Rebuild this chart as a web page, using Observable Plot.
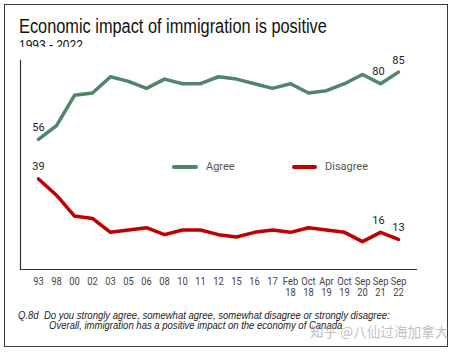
<!DOCTYPE html>
<html><head><meta charset="utf-8">
<script src="https://cdn.jsdelivr.net/npm/d3@7"></script>
<script src="https://cdn.jsdelivr.net/npm/@observablehq/plot@0.6"></script>
<style>
body{margin:0;background:#fff;}
#wrap{position:relative;width:459px;height:353px;overflow:hidden;background:#fff;font-family:"Liberation Sans",Arial,sans-serif;}
#frame{position:absolute;left:4px;top:4px;width:442px;height:341px;border:1.5px solid #3a3a3a;}
.abs{position:absolute;white-space:nowrap;transform-origin:0 0;}
#title{left:19px;top:16px;font-size:20px;line-height:20px;color:#111;}
#subclip{position:absolute;left:19px;top:38px;height:9px;overflow:hidden;width:80px;}
#sub{left:0;top:0;font-size:14px;line-height:14px;color:#111;}
.cap{font-size:10.5px;line-height:10.5px;font-style:italic;color:#222;}
#cap1{left:18px;top:309.5px;}
#cap2{left:49px;top:320px;}
#wm{left:310px;top:323px;font-family:"Noto Sans CJK SC",sans-serif;font-size:14px;line-height:16px;color:rgba(170,170,170,0.75);}
.leg{position:absolute;height:4px;border-radius:2px;}
.legt{font-family:Roboto,sans-serif;font-size:11px;line-height:11px;color:#555;}
#chart{position:absolute;left:0;top:0;}
</style></head><body>
<div id="wrap">
  <div id="chart"></div>
  <div id="frame"></div>
  <div id="title" class="abs fit" data-w="308">Economic impact of immigration is positive</div>
  <div id="subclip"><div id="sub" class="abs fit" data-w="64">1993 - 2022</div></div>
  <div id="legA" class="leg" style="left:172px;top:165px;width:26px;"></div>
  <div class="abs legt" style="left:206px;top:161px;">Agree</div>
  <div id="legD" class="leg" style="left:292px;top:165px;width:25px;"></div>
  <div class="abs legt" style="left:325px;top:161px;">Disagree</div>
  <div id="cap1" class="abs cap fit" data-w="372">Q.8d&nbsp; Do you strongly agree, somewhat agree, somewhat disagree or strongly disagree:</div>
  <div id="cap2" class="abs cap fit" data-w="293">Overall, immigration has a positive impact on the economy of Canada</div>
  <div id="wm" class="abs fit" data-w="138">知乎 @八仙过海加拿大</div>
</div>
<script>
const categories = ["93","98","00","02","03","05","06","08","10","11","12","15","16","17","Feb 18","Oct 18","Apr 19","Oct 19","Sep 20","Sep 21","Sep 22"];
const tickLabels = ["93","98","00","02","03","05","06","08","10","11","12","15","16","17","Feb\n18","Oct\n18","Apr\n19","Oct\n19","Sep\n20","Sep\n21","Sep\n22"];
const seriesNames = ["Agree","Disagree"];
const agree =    [56,62,75,76,83,81,78,82,80,80,83,82,80,78,80,76,77,80,84,80,85];
const disagree = [39,32,23,22,16,17,18,15,17,17,15,14,16,17,16,18,17,16,12,16,13];
const labeledAgree = ["93","Sep 21","Sep 22"];
const labeledDisagree = ["93","Sep 21","Sep 22"];
const colors = ["#4f8669","#c00000"];

document.getElementById("legA").style.background = colors[0];
document.getElementById("legD").style.background = colors[1];

const rows = categories.flatMap((c, i) => [
  {cat: c, v: agree[i], s: seriesNames[0]},
  {cat: c, v: disagree[i], s: seriesNames[1]}
]);
const labelRows = rows.filter(d =>
  (d.s === "Agree" && labeledAgree.includes(d.cat)) ||
  (d.s === "Disagree" && labeledDisagree.includes(d.cat)));

const chart = Plot.plot({
  width: 459, height: 353,
  marginTop: 60, marginBottom: 84, marginLeft: 20, marginRight: 43,
  style: {background: "transparent", fontFamily: "Roboto, sans-serif", fontSize: "11px", color: "#444", overflow: "visible"},
  x: {type: "point", domain: categories, padding: 0.48,
      tickFormat: d => tickLabels[categories.indexOf(d)], tickSize: 0, tickPadding: 8, label: null},
  y: {domain: [0, 90], axis: null},
  color: {domain: seriesNames, range: colors},
  marks: [
    Plot.frame({anchor: "left", stroke: "#333", strokeWidth: 1.2}),
    Plot.frame({anchor: "bottom", stroke: "#333", strokeWidth: 1.2}),
    Plot.lineY(rows, {x: "cat", y: "v", z: "s", stroke: "s", strokeWidth: 3.5, strokeLinejoin: "round", strokeLinecap: "round"}),
    Plot.text(labelRows.filter(d => d.cat !== "Sep 21"), {x: "cat", y: "v", text: d => String(d.v), dy: -12, fill: "#222", fontSize: 11}),
    Plot.text(labelRows.filter(d => d.cat === "Sep 21"), {x: "cat", y: "v", text: d => String(d.v), dy: -12, dx: -2, fill: "#222", fontSize: 11})
  ]
});
document.getElementById("chart").appendChild(chart);

// narrow the tick labels like the reference's condensed face
chart.querySelectorAll('g[aria-label="x-axis tick label"] text').forEach(t => {
  const tr = t.getAttribute("transform") || "";
  t.setAttribute("transform", tr + " scale(0.85,1)");
});

function fit() {
  document.querySelectorAll(".fit").forEach(el => {
    el.style.transform = "none";
    const w = el.scrollWidth;
    const t = +el.dataset.w;
    if (w > 0) el.style.transform = `scaleX(${t / w})`;
  });
}
fit();
if (document.fonts && document.fonts.ready) document.fonts.ready.then(fit);
</script>
</body></html>
